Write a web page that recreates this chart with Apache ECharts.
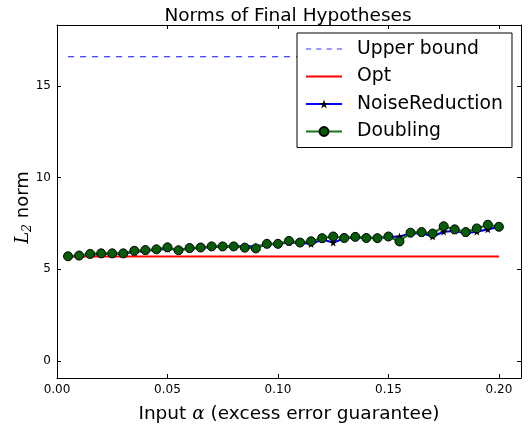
<!DOCTYPE html>
<html>
<head>
<meta charset="utf-8">
<script src="https://cdn.jsdelivr.net/npm/echarts@6/dist/echarts.min.js"></script>
<style>html,body{margin:0;padding:0;background:#fff;}#c{width:530px;height:429px;}</style>
</head>
<body>
<div id="c"></div>
<script>
const alphas = [0.005,0.010,0.015,0.020,0.025,0.030,0.035,0.040,0.045,0.050,
                0.055,0.060,0.065,0.070,0.075,0.080,0.085,0.090,0.095,0.100,
                0.105,0.110,0.115,0.120,0.125,0.130,0.135,0.140,0.145,0.150,
                0.155,0.160,0.165,0.170,0.175,0.180,0.185,0.190,0.195,0.200];
const noiseReduction = [5.71,5.74,5.80,5.84,5.85,5.86,5.95,6.01,6.07,6.12,
                        6.07,6.13,6.17,6.22,6.24,6.24,6.26,6.24,6.36,6.38,
                        6.47,6.45,6.38,6.63,6.46,6.68,6.74,6.72,6.72,6.76,
                        6.79,6.95,6.98,6.79,7.05,7.10,6.97,7.05,7.18,7.32];
const doubling = [5.71,5.75,5.84,5.87,5.87,5.87,6.01,6.05,6.09,6.20,
                  6.04,6.16,6.19,6.25,6.25,6.25,6.18,6.14,6.39,6.39,
                  6.55,6.46,6.53,6.70,6.79,6.71,6.77,6.71,6.70,6.79,
                  6.52,7.00,7.03,6.95,7.35,7.18,7.03,7.23,7.43,7.32];
const upperBoundX = [0.005, 0.200];
const upperBound = [16.6, 16.6];
const optX = [0.005, 0.200];
const opt = [5.7, 5.7];
const xTicks = [0.00, 0.05, 0.10, 0.15, 0.20];
const yTicks = [0, 5, 10, 15];

const FONT = 'DejaVu Sans';
const star = 'path://M50,0 L61.8,35.3 L99,35.3 L69,57.1 L80.2,92.7 L50,70.9 L19.8,92.7 L31,57.1 L1,35.3 L38.2,35.3 Z';
const dashIcon = 'path://M0,0h5v1h-5z M10,0h5v1h-5z M20,0h5v1h-5z M30,0h5v1h-5z';
const solidIcon = 'path://M0,0h36v2h-36z';

const pairs = (xs, ys) => xs.map((x, i) => [x, ys[i]]);

const chart = echarts.init(document.getElementById('c'), null, {renderer: 'canvas'});
const tickCommon = {show: true, inside: true, length: 4, lineStyle: {color: '#000', width: 1}};
chart.setOption({
  animation: false,
  backgroundColor: '#fff',
  textStyle: {fontFamily: FONT},
  title: {
    text: 'Norms of Final Hypotheses',
    left: 283, top: 2, textAlign: 'center',
    textStyle: {fontFamily: FONT, fontSize: 18.5, fontWeight: 'normal', color: '#000'}
  },
  grid: {left: 57, top: 25, right: 9, bottom: 46, containLabel: false},
  legend: {
    orient: 'vertical',
    left: 297, top: 33,
    padding: [6, 9, 6, 8],
    itemGap: 7.5,
    itemWidth: 36,
    itemHeight: 11,
    borderColor: '#000',
    borderWidth: 1,
    backgroundColor: '#fff',
    textStyle: {fontFamily: FONT, fontSize: 18.8, color: '#000', lineHeight: 20, padding: [0, 0, 0, 10]},
    data: [
      {name: 'Upper bound', icon: dashIcon, itemStyle: {color: '#3333ff'}},
      {name: 'Opt', icon: solidIcon, itemStyle: {color: '#ff0000'}},
      {name: 'NoiseReduction'},
      {name: 'Doubling'}
    ]
  },
  xAxis: [{
    type: 'value', min: 0, max: 0.21, position: 'bottom',
    name: 'Input {a|α} (excess error guarantee)',
    nameLocation: 'middle', nameGap: 27, nameMoveOverlap: false,
    nameTextStyle: {fontFamily: FONT, fontSize: 18.5, color: '#000',
      rich: {a: {fontFamily: 'DejaVu Serif', fontStyle: 'italic', fontSize: 18.5, color: '#000'}}},
    axisLine: {show: true, onZero: false, lineStyle: {color: '#000', width: 1}},
    axisTick: Object.assign({customValues: xTicks}, tickCommon),
    axisLabel: {customValues: xTicks, formatter: v => v.toFixed(2), color: '#000', fontSize: 12, fontFamily: FONT, margin: 6},
    splitLine: {show: false}
  }, {
    type: 'value', min: 0, max: 0.21, position: 'top',
    axisLine: {show: true, onZero: false, lineStyle: {color: '#000', width: 1}},
    axisTick: Object.assign({customValues: xTicks}, tickCommon),
    axisLabel: {show: false},
    splitLine: {show: false}
  }],
  yAxis: [{
    type: 'value', min: -0.93, max: 18.33, position: 'left',
    name: '{i|L}{s|2} norm',
    nameLocation: 'middle', nameGap: 23, nameRotate: 90, nameMoveOverlap: false,
    nameTextStyle: {fontFamily: FONT, fontSize: 18, color: '#000', padding: [0, 12, 0, 0],
      rich: {
        i: {fontFamily: 'DejaVu Serif', fontStyle: 'italic', fontSize: 18, color: '#000'},
        s: {fontFamily: 'DejaVu Serif', fontStyle: 'italic', fontSize: 12.5, color: '#000', padding: [9, 0, 0, 0]}
      }},
    axisLine: {show: true, onZero: false, lineStyle: {color: '#000', width: 1}},
    axisTick: Object.assign({customValues: yTicks}, tickCommon),
    axisLabel: {customValues: yTicks, color: '#000', fontSize: 12, fontFamily: FONT, margin: 6},
    splitLine: {show: false}
  }, {
    type: 'value', min: -0.93, max: 18.33, position: 'right',
    axisLine: {show: true, onZero: false, lineStyle: {color: '#000', width: 1}},
    axisTick: Object.assign({customValues: yTicks}, tickCommon),
    axisLabel: {show: false},
    splitLine: {show: false}
  }],
  series: [{
    name: 'Upper bound', type: 'line', xAxisIndex: 0, yAxisIndex: 0,
    data: pairs(upperBoundX, upperBound),
    symbol: 'none',
    color: '#3333ff',
    lineStyle: {color: '#3333ff', width: 1.2, type: [6, 6]},
    itemStyle: {color: '#3333ff'}
  }, {
    name: 'Opt', type: 'line',
    data: pairs(optX, opt),
    symbol: 'none',
    color: '#ff0000',
    lineStyle: {color: '#ff0000', width: 2.2},
    itemStyle: {color: '#ff0000'}
  }, {
    name: 'NoiseReduction', type: 'line',
    data: pairs(alphas, noiseReduction),
    symbol: star, symbolSize: 8, showSymbol: true,
    lineStyle: {color: '#0000ff', width: 2.2},
    itemStyle: {color: '#000', borderWidth: 0}
  }, {
    name: 'Doubling', type: 'line',
    data: pairs(alphas, doubling),
    symbol: 'circle', symbolSize: 9, showSymbol: true,
    lineStyle: {color: '#177a17', width: 2.2},
    itemStyle: {color: '#075c07', borderColor: '#000', borderWidth: 1}
  }]
});
</script>
</body>
</html>
